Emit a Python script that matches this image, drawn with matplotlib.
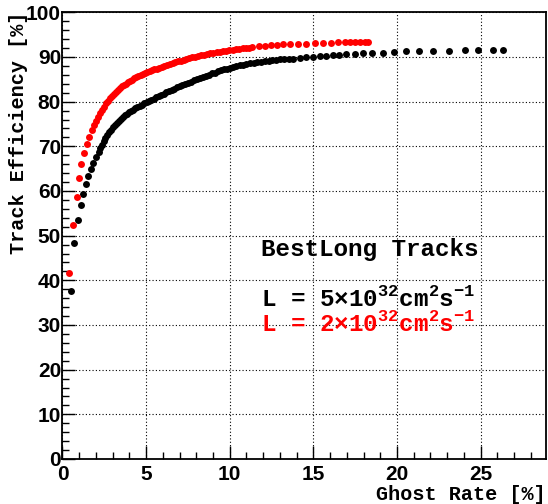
import matplotlib
matplotlib.use('Agg')
import matplotlib.pyplot as plt
from matplotlib.ticker import MultipleLocator

# Track efficiency vs ghost rate, two luminosities
ghost_5e32 = [0.49, 0.71, 0.95, 1.10, 1.24, 1.40, 1.54, 1.68, 1.84, 1.98,
              2.16, 2.26, 2.36, 2.46, 2.56, 2.66, 2.76, 2.88, 3.00, 3.12,
              3.24, 3.36, 3.48, 3.60, 3.72, 3.84, 3.96, 4.08, 4.20, 4.34,
              4.48, 4.62, 4.76, 4.90, 5.04, 5.18, 5.32, 5.46, 5.60, 5.75,
              5.90, 6.05, 6.20, 6.36, 6.52, 6.68, 6.84, 7.00, 7.17, 7.34,
              7.51, 7.68, 7.85, 8.02, 8.20, 8.38, 8.56, 8.74, 8.92, 9.10,
              9.28, 9.46, 9.64, 9.82, 10.00, 10.20, 10.40, 10.60, 10.80, 11.00,
              11.22, 11.44, 11.66, 11.88, 12.10, 12.32, 12.55, 12.78, 13.02, 13.26,
              13.52, 13.79, 14.19, 14.59, 14.98, 15.38, 15.78, 16.18, 16.54, 16.98,
              17.47, 17.97, 18.53, 19.16, 19.80, 20.52, 21.31, 22.15, 23.10, 24.06,
              24.86, 25.73, 26.37]
eff_5e32 = [37.7, 48.3, 53.5, 56.9, 59.4, 61.6, 63.3, 64.9, 66.3, 67.6,
            68.7, 69.6, 70.4, 71.2, 71.9, 72.5, 73.1, 73.7, 74.3, 74.8,
            75.3, 75.7, 76.2, 76.6, 76.9, 77.3, 77.6, 77.9, 78.2, 78.5,
            78.8, 79.1, 79.3, 79.6, 79.9, 80.2, 80.4, 80.7, 81.0, 81.2,
            81.5, 81.8, 82.1, 82.3, 82.6, 82.9, 83.2, 83.5, 83.7, 84.0,
            84.2, 84.5, 84.8, 85.0, 85.3, 85.5, 85.8, 86.0, 86.3, 86.5,
            86.8, 87.0, 87.2, 87.4, 87.6, 87.8, 87.9, 88.1, 88.3, 88.4,
            88.6, 88.7, 88.8, 88.9, 89.05, 89.15, 89.25, 89.35, 89.45, 89.5,
            89.6, 89.65, 89.8, 89.9, 90.0, 90.2, 90.3, 90.45, 90.5, 90.6,
            90.75, 90.8, 90.9, 91.0, 91.1, 91.3, 91.35, 91.4, 91.4, 91.45,
            91.5, 91.5, 91.6]

ghost_2e32 = [0.41, 0.65, 0.85, 0.99, 1.12, 1.28, 1.44, 1.60, 1.74, 1.86,
              1.98, 2.10, 2.22, 2.34, 2.46, 2.58, 2.70, 2.82, 2.94, 3.06,
              3.18, 3.30, 3.42, 3.54, 3.66, 3.78, 3.90, 4.02, 4.15, 4.28,
              4.41, 4.54, 4.67, 4.80, 4.94, 5.08, 5.22, 5.36, 5.50, 5.65,
              5.80, 5.95, 6.10, 6.26, 6.42, 6.58, 6.74, 6.90, 7.07, 7.24,
              7.41, 7.58, 7.76, 7.94, 8.12, 8.30, 8.48, 8.66, 8.84, 9.02,
              9.21, 9.40, 9.59, 9.78, 9.98, 10.18, 10.38, 10.58, 10.78, 10.98,
              11.18, 11.36, 11.76, 12.10, 12.44, 12.80, 13.19, 13.63, 14.09, 14.59,
              15.08, 15.58, 16.08, 16.48, 16.88, 17.17, 17.47, 17.77, 18.07, 18.27]
eff_2e32 = [41.6, 52.4, 58.6, 62.9, 66.1, 68.5, 70.6, 72.1, 73.7, 74.8,
            75.7, 76.6, 77.4, 78.2, 78.9, 79.6, 80.2, 80.8, 81.3, 81.8,
            82.2, 82.6, 83.0, 83.4, 83.7, 84.0, 84.3, 84.6, 84.9, 85.2,
            85.5, 85.7, 85.9, 86.2, 86.4, 86.6, 86.8, 87.0, 87.2, 87.4,
            87.6, 87.8, 88.0, 88.2, 88.4, 88.6, 88.8, 89.0, 89.2, 89.4,
            89.6, 89.8, 89.95, 90.1, 90.25, 90.4, 90.55, 90.7, 90.85, 91.0,
            91.1, 91.2, 91.3, 91.4, 91.5, 91.6, 91.7, 91.8, 91.9, 92.0,
            92.1, 92.3, 92.45, 92.55, 92.6, 92.7, 92.8, 92.85, 92.9, 93.0,
            93.1, 93.15, 93.2, 93.25, 93.3, 93.3, 93.35, 93.4, 93.4, 93.45]

plt.rcParams['mathtext.fontset'] = 'custom'
plt.rcParams['mathtext.rm'] = 'Liberation Mono:bold'
plt.rcParams['mathtext.bf'] = 'Liberation Mono:bold'

fig = plt.figure(figsize=(5.48, 5.04), dpi=100)
ax = fig.add_axes([0.114, 0.0893, 0.882, 0.8863])

ax.plot(ghost_5e32, eff_5e32, 'o', color='black', markersize=5.0, markeredgewidth=0)
ax.plot(ghost_2e32, eff_2e32, 'o', color='#ff0000', markersize=5.0, markeredgewidth=0)

ax.set_xlim(0, 28.9)
ax.set_ylim(0, 100)

ax.xaxis.set_major_locator(MultipleLocator(5))
ax.xaxis.set_minor_locator(MultipleLocator(1))
ax.yaxis.set_major_locator(MultipleLocator(10))
ax.yaxis.set_minor_locator(MultipleLocator(2))

ax.grid(True, which='major', color='black', linestyle=(0, (1, 2)), linewidth=0.8)
ax.tick_params(which='both', direction='in', top=False, right=False, width=1.0)
ax.tick_params(which='major', length=9.5)
ax.tick_params(which='minor', length=5)
ax.tick_params(axis='y', pad=1)
ax.tick_params(axis='x', pad=4.5)
for lab in ax.get_xticklabels() + ax.get_yticklabels():
    lab.set_fontfamily('Liberation Sans')
    lab.set_fontweight('bold')
    lab.set_fontsize(15)

for sp in ax.spines.values():
    sp.set_linewidth(1.3)

fig.text(0.996, 0.018, 'Ghost Rate [%]', ha='right', va='center',
         family='Liberation Mono', weight='bold', fontsize=14.5)
fig.text(0.033, 0.978, 'Track Efficiency [%]', ha='center', va='top', rotation=90,
         family='Liberation Mono', weight='bold', fontsize=14.5)

ax.text(11.9, 46.8, 'BestLong Tracks', ha='left', va='center',
        family='Liberation Mono', weight='bold', fontsize=17.5)
ax.text(11.9, 36.0, r'L = 5$\times$10$^{32}$cm$^{2}$s$^{-1}$', ha='left', va='center',
        family='Liberation Mono', weight='bold', fontsize=17.5, color='black')
ax.text(11.9, 30.4, r'L = 2$\times$10$^{32}$cm$^{2}$s$^{-1}$', ha='left', va='center',
        family='Liberation Mono', weight='bold', fontsize=17.5, color='#ff0000')

fig.savefig('out.png', dpi=100)
